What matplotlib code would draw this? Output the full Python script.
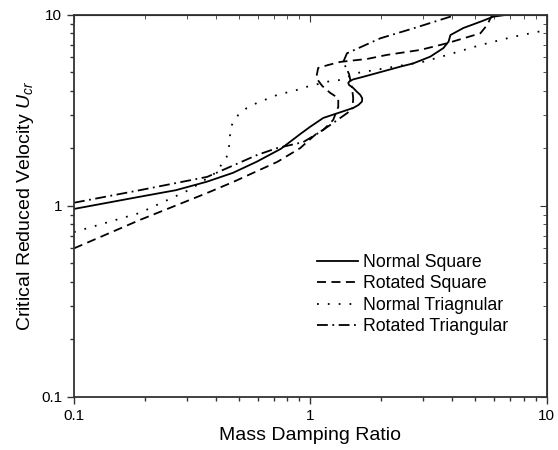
import numpy as np
import matplotlib
matplotlib.use('Agg')
import matplotlib.pyplot as plt

# Velocità ridotta critica in funzione del rapporto massa-smorzamento
x_ns = [0.1, 0.19, 0.27, 0.365, 0.47, 0.594, 0.75, 0.907, 1.0, 1.135, 1.52, 1.60, 1.655, 1.66, 1.63,
        1.57, 1.52, 1.46, 1.448, 1.47, 1.52, 1.68, 2.40, 2.73, 3.22, 3.66, 3.85, 3.92, 4.45, 5.25,
        5.96, 6.7, 10]
y_ns = [0.965, 1.118, 1.21, 1.34, 1.49, 1.706, 1.99, 2.38, 2.6, 2.89, 3.26, 3.38, 3.52, 3.66, 3.81,
        3.98, 4.15, 4.30, 4.41, 4.51, 4.60, 4.75, 5.36, 5.58, 6.05, 6.71, 7.25, 7.85, 8.55, 9.22,
        9.8, 10, 10]

x_rs = [0.1, 0.19, 0.366, 0.472, 0.724, 0.907, 1.07, 1.135, 1.25, 1.314, 1.314, 1.215, 1.124,
        1.06, 1.08, 1.19, 1.34, 1.745, 2.11, 2.92, 3.79, 5.25, 5.61, 5.79, 5.9, 10]
y_rs = [0.60, 0.845, 1.17, 1.336, 1.70, 2.01, 2.41, 2.50, 2.82, 3.30, 3.67, 3.91, 4.25,
        4.68, 5.28, 5.47, 5.68, 5.89, 6.18, 6.56, 7.11, 8.02, 8.87, 9.61, 10, 10]

x_nt = [0.1, 0.19, 0.31, 0.40, 0.443, 0.454, 0.458, 0.466, 0.495, 0.539, 0.594, 0.723, 0.878,
        0.968, 1.19, 1.34, 1.58, 1.98, 3.01, 3.81, 5.25, 7.24, 10]
y_nt = [0.73, 0.92, 1.22, 1.5, 1.81, 2.08, 2.36, 2.66, 2.99, 3.26, 3.46, 3.81, 4.05,
        4.21, 4.48, 4.57, 4.97, 5.21, 5.69, 6.18, 6.96, 7.69, 8.34]

x_rt = [0.1, 0.19, 0.366, 0.596, 0.724, 0.934, 1.10, 1.25, 1.436, 1.51, 1.52, 1.50, 1.46,
        1.38, 1.43, 1.98, 2.73, 3.92, 4.1, 10]
y_rt = [1.04, 1.21, 1.42, 1.85, 2.01, 2.16, 2.44, 2.72, 3.07, 3.26, 3.67, 4.2, 4.9,
        5.68, 6.30, 7.55, 8.51, 9.8, 10, 10]

etichette = ['Normal Square', 'Rotated Square', 'Normal Triagnular', 'Rotated Triangular']

plt.rcParams['font.family'] = ['Liberation Sans', 'DejaVu Sans']
plt.rcParams['mathtext.fontset'] = 'custom'
plt.rcParams['mathtext.it'] = 'Liberation Sans:italic'
plt.rcParams['mathtext.rm'] = 'Liberation Sans'

fig = plt.figure(figsize=(5.58, 4.5), dpi=100)
ax = fig.add_axes([0.1326, 0.1178, 0.8468, 0.8489])

lw = 1.3
ax.plot(x_ns, y_ns, color='black', lw=lw, linestyle='-', label=etichette[0])
ax.plot(x_rs, y_rs, color='black', lw=lw, linestyle=(0, (5, 3)), label=etichette[1])
ax.plot(x_nt, y_nt, color='black', lw=lw, linestyle=(0, (1, 5)), label=etichette[2])
ax.plot(x_rt, y_rt, color='black', lw=lw, linestyle=(0, (6, 2.5, 1, 2.5)), label=etichette[3])

ax.set_xscale('log')
ax.set_yscale('log')
ax.set_xlim(0.1, 10)
ax.set_ylim(0.1, 10)
ax.set_xticks([0.1, 1, 10])
ax.set_xticklabels(['0.1', '1', '10'])
ax.set_yticks([0.1, 1, 10])
ax.set_yticklabels(['0.1', '1', '10'])

for sp in ax.spines.values():
    sp.set_color('#333333')
    sp.set_linewidth(1.3)

ax.tick_params(which='major', direction='out', length=5, width=1, color='#333333',
               labelsize=11, top=False, right=False)
ax.tick_params(which='minor', direction='out', length=3, width=1, color='#333333',
               top=False, right=False)

# tacche interne sui lati superiore e destro
sx = ax.secondary_xaxis('top')
sx.tick_params(which='both', direction='in', labeltop=False, color='#333333')
sx.tick_params(which='major', length=5)
sx.tick_params(which='minor', length=3)
sy = ax.secondary_yaxis('right')
sy.tick_params(which='both', direction='in', labelright=False, color='#333333')
sy.tick_params(which='major', length=5)
sy.tick_params(which='minor', length=3)

ax.set_xlabel('Mass Damping Ratio', fontsize=14, labelpad=3)
ax.set_ylabel('Critical Reduced Velocity $U_{cr}$', fontsize=14, labelpad=4)

ax.legend(loc='upper left', bbox_to_anchor=(317 / 558, 1 - 254 / 450),
          bbox_transform=fig.transFigure, frameon=False, fontsize=12.7,
          handlelength=2.35, handletextpad=0.25, labelspacing=0.25,
          borderpad=0, borderaxespad=0)

fig.savefig('out.png', dpi=100)
